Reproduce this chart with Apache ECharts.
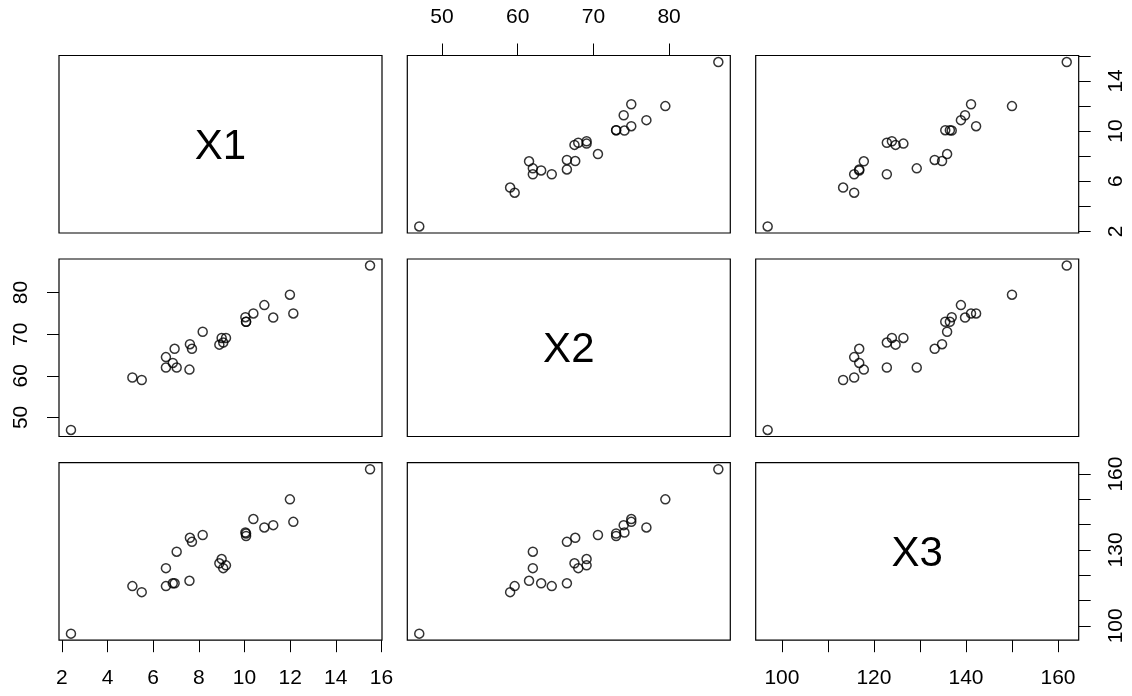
<!DOCTYPE html>
<html><head><meta charset="utf-8">
<script src="https://cdn.jsdelivr.net/npm/echarts@6/dist/echarts.min.js"></script>
<style>html,body{margin:0;padding:0;background:#fff}#c{width:1132px;height:696px}</style>
</head><body><div id="c"></div>
<script>
const varNames = ['X1', 'X2', 'X3'];
const x1 = [2.4, 15.5, 11.99, 10.87, 10.39, 12.14, 11.26, 10.04, 10.07, 10.07, 8.17, 7.61, 7.70, 7.03, 6.56, 9.00, 9.19, 8.90, 9.07, 6.94, 6.56, 6.86, 7.59, 5.09, 5.50];
const x2 = [47.0, 86.5, 79.5, 77.0, 75.0, 75.0, 74.0, 74.1, 73.0, 73.0, 70.6, 67.6, 66.5, 62.0, 62.0, 69.1, 69.1, 67.5, 68.0, 66.5, 64.5, 63.1, 61.5, 59.6, 59.0];
const x3 = [96.9, 161.9, 150.0, 138.9, 142.2, 141.1, 139.8, 136.9, 136.5, 135.5, 135.9, 134.8, 133.2, 129.3, 122.8, 126.4, 123.9, 124.7, 122.8, 116.8, 115.7, 116.8, 117.8, 115.7, 113.3];
const x1Ticks = [2, 4, 6, 8, 10, 12, 14, 16];
const x1LabelsBottom = [2, 4, 6, 8, 10, 12, 14, 16];
const x1LabelsRight = [2, 6, 10, 14];
const x2Ticks = [50, 60, 70, 80];
const x2Labels = [50, 60, 70, 80];
const x3Ticks = [100, 110, 120, 130, 140, 150, 160];
const x3LabelsBottom = [100, 120, 140, 160];
const x3LabelsRight = [100, 130, 160];

const vars = [x1, x2, x3];
const FONT = 'Liberation Sans, Arial, Helvetica, sans-serif';
const colLeft = [59, 407.3, 755.7];
const rowTop = [55.5, 259, 462.7];
const W = 323, H = 177.5;

function lim(a) {
  const mn = Math.min(...a), mx = Math.max(...a), r = mx - mn;
  return [mn - 0.04 * r, mx + 0.04 * r];
}
const lims = vars.map(lim);

const xShow = {
  '2,0': ['bottom', x1Ticks, x1LabelsBottom],
  '0,1': ['top', x2Ticks, x2Labels],
  '2,2': ['bottom', x3Ticks, x3LabelsBottom]
};
const yShow = {
  '0,2': ['right', x1Ticks, x1LabelsRight],
  '1,0': ['left', x2Ticks, x2Labels],
  '2,2': ['right', x3Ticks, x3LabelsRight]
};

function axis(gi, l, spec, isY) {
  const base = {
    type: 'value', gridIndex: gi, min: l[0], max: l[1],
    splitLine: {show: false}, axisLine: {show: false}
  };
  if (!spec) {
    return Object.assign(base, {axisTick: {show: false}, axisLabel: {show: false}});
  }
  return Object.assign(base, {
    position: spec[0],
    axisTick: {show: true, customValues: spec[1], length: 12, lineStyle: {color: '#000', width: 1}},
    axisLabel: {
      show: true, customValues: spec[2], margin: 38, fontSize: 21, fontFamily: FONT, color: '#000',
      align: 'center', verticalAlign: 'middle', rotate: isY ? 90 : 0
    }
  });
}

const grids = [], xAxes = [], yAxes = [], series = [], graphics = [];
let gi = 0;
for (let r = 0; r < 3; r++) {
  for (let c = 0; c < 3; c++) {
    grids.push({left: colLeft[c], top: rowTop[r], width: W, height: H, show: true,
      borderColor: '#000', borderWidth: 1.2, backgroundColor: 'transparent', containLabel: false});
    xAxes.push(axis(gi, lims[c], xShow[r + ',' + c], false));
    yAxes.push(axis(gi, lims[r], yShow[r + ',' + c], true));
    if (r !== c) {
      series.push({
        type: 'scatter', xAxisIndex: gi, yAxisIndex: gi,
        data: vars[c].map((v, k) => [v, vars[r][k]]),
        symbol: 'circle', symbolSize: 9,
        itemStyle: {color: 'rgba(0,0,0,0)', borderColor: '#000', borderWidth: 1.5},
        silent: true
      });
    } else {
      graphics.push({
        type: 'text', x: colLeft[c] + W / 2, y: rowTop[r] + H / 2 + 3,
        style: {text: varNames[r], fontSize: 42, fontFamily: FONT, fill: '#000',
          align: 'center', verticalAlign: 'middle'}
      });
    }
    gi++;
  }
}

const chart = echarts.init(document.getElementById('c'), null, {renderer: 'canvas'});
chart.setOption({
  animation: false,
  backgroundColor: '#fff',
  grid: grids, xAxis: xAxes, yAxis: yAxes, series: series,
  graphic: graphics
});
</script></body></html>
